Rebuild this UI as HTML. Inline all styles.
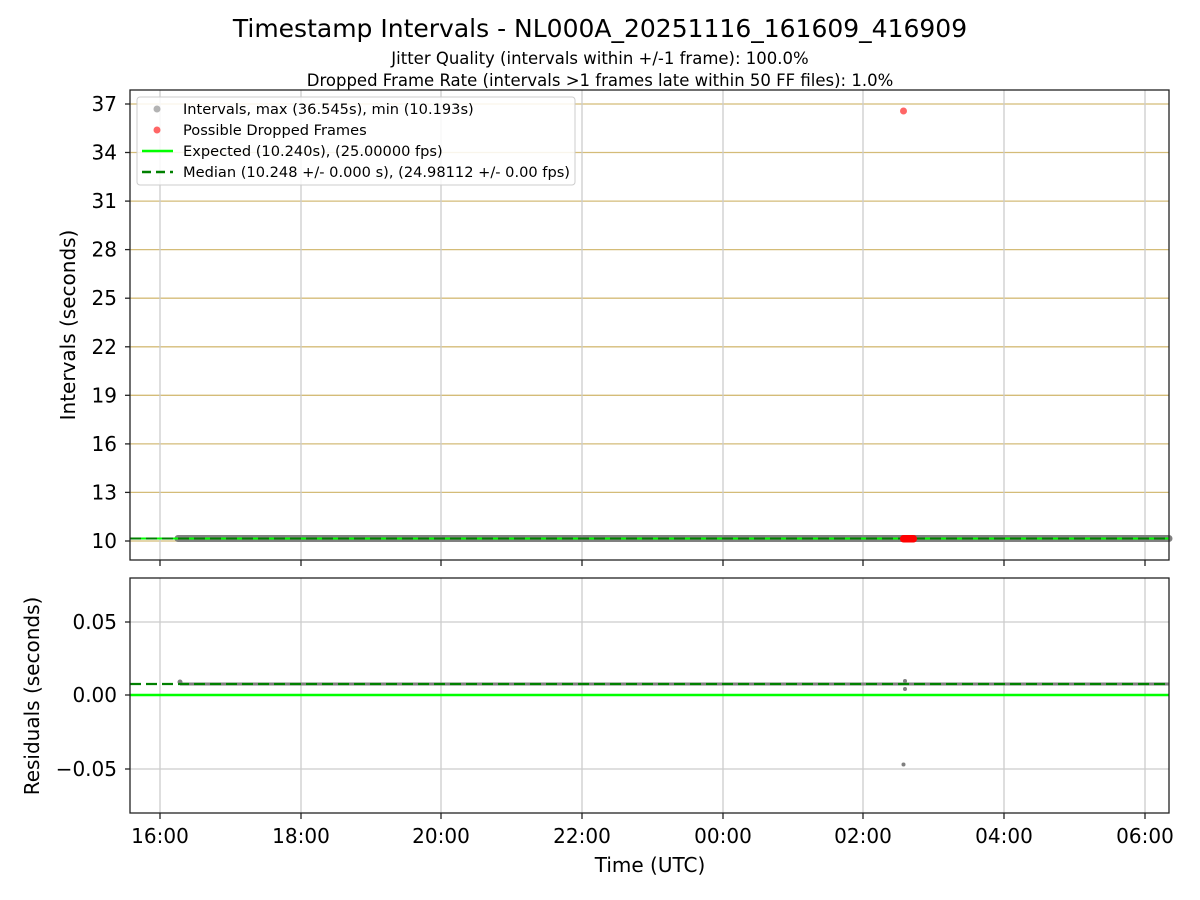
<!DOCTYPE html>
<html><head><meta charset="utf-8"><style>body{margin:0;background:#fff}svg{display:block}text{font-family:"DejaVu Sans","Liberation Sans",sans-serif;fill:#000}</style></head><body>
<svg width="1200" height="900" xmlns="http://www.w3.org/2000/svg">
<text x="600" y="37" font-size="25" text-anchor="middle">Timestamp Intervals - NL000A_20251116_161609_416909</text>
<text x="600" y="64" font-size="16.5" text-anchor="middle">Jitter Quality (intervals within +/-1 frame): 100.0%</text>
<text x="600" y="86" font-size="16.5" text-anchor="middle">Dropped Frame Rate (intervals &gt;1 frames late within 50 FF files): 1.0%</text>
<g stroke="#d4bc78" stroke-width="1.3">
<line x1="130" x2="1169" y1="541" y2="541"/><line x1="130" x2="1169" y1="492.4" y2="492.4"/><line x1="130" x2="1169" y1="443.9" y2="443.9"/><line x1="130" x2="1169" y1="395.3" y2="395.3"/><line x1="130" x2="1169" y1="346.8" y2="346.8"/><line x1="130" x2="1169" y1="298.2" y2="298.2"/><line x1="130" x2="1169" y1="249.6" y2="249.6"/><line x1="130" x2="1169" y1="201.1" y2="201.1"/><line x1="130" x2="1169" y1="152.5" y2="152.5"/><line x1="130" x2="1169" y1="104" y2="104"/>
</g>
<g stroke="#cccccc" stroke-width="1.3">
<line x1="130" x2="1169" y1="622" y2="622"/><line x1="130" x2="1169" y1="695" y2="695"/><line x1="130" x2="1169" y1="769" y2="769"/>
</g>
<g stroke="#cccccc" stroke-width="1.3">
<line x1="160" x2="160" y1="90" y2="560"/><line x1="301" x2="301" y1="90" y2="560"/><line x1="441" x2="441" y1="90" y2="560"/><line x1="582" x2="582" y1="90" y2="560"/><line x1="723" x2="723" y1="90" y2="560"/><line x1="863" x2="863" y1="90" y2="560"/><line x1="1004" x2="1004" y1="90" y2="560"/><line x1="1145" x2="1145" y1="90" y2="560"/>
<line x1="160" x2="160" y1="578" y2="813"/><line x1="301" x2="301" y1="578" y2="813"/><line x1="441" x2="441" y1="578" y2="813"/><line x1="582" x2="582" y1="578" y2="813"/><line x1="723" x2="723" y1="578" y2="813"/><line x1="863" x2="863" y1="578" y2="813"/><line x1="1004" x2="1004" y1="578" y2="813"/><line x1="1145" x2="1145" y1="578" y2="813"/>
</g>
<line x1="178" x2="1169" y1="538.5" y2="538.5" stroke="#808080" stroke-width="7" stroke-linecap="round"/>
<line x1="130" x2="1169" y1="538.5" y2="538.5" stroke="#00ff00" stroke-width="2"/>
<line x1="130" x2="1169" y1="538.5" y2="538.5" stroke="#008000" stroke-width="2" stroke-dasharray="11,5"/>
<rect x="900" y="535" width="17" height="7.5" rx="3.5" fill="#ff0000"/>
<circle cx="903.5" cy="111" r="3.5" fill="#ff0000" opacity="0.6"/>
<line x1="180" x2="1169" y1="684" y2="684" stroke="#808080" stroke-width="3"/>
<circle cx="180" cy="682" r="2.5" fill="#808080"/>
<circle cx="905" cy="681" r="2" fill="#808080"/><circle cx="905" cy="689" r="2" fill="#808080"/>
<circle cx="903.5" cy="764.5" r="2" fill="#808080"/>
<line x1="130" x2="1169" y1="684" y2="684" stroke="#008000" stroke-width="2.2" stroke-dasharray="11,5"/>
<line x1="130" x2="1169" y1="695" y2="695" stroke="#00ff00" stroke-width="2.5"/>
<rect x="130" y="90" width="1039" height="470" fill="none" stroke="#222" stroke-width="1.3"/>
<rect x="130" y="578" width="1039" height="235" fill="none" stroke="#222" stroke-width="1.3"/>
<g stroke="#222" stroke-width="1.3">
<line x1="125" x2="130" y1="541" y2="541"/><line x1="125" x2="130" y1="492.4" y2="492.4"/><line x1="125" x2="130" y1="443.9" y2="443.9"/><line x1="125" x2="130" y1="395.3" y2="395.3"/><line x1="125" x2="130" y1="346.8" y2="346.8"/><line x1="125" x2="130" y1="298.2" y2="298.2"/><line x1="125" x2="130" y1="249.6" y2="249.6"/><line x1="125" x2="130" y1="201.1" y2="201.1"/><line x1="125" x2="130" y1="152.5" y2="152.5"/><line x1="125" x2="130" y1="104" y2="104"/>
<line x1="125" x2="130" y1="622" y2="622"/><line x1="125" x2="130" y1="695" y2="695"/><line x1="125" x2="130" y1="769" y2="769"/>
<line x1="160" x2="160" y1="560" y2="566"/><line x1="301" x2="301" y1="560" y2="566"/><line x1="441" x2="441" y1="560" y2="566"/><line x1="582" x2="582" y1="560" y2="566"/><line x1="723" x2="723" y1="560" y2="566"/><line x1="863" x2="863" y1="560" y2="566"/><line x1="1004" x2="1004" y1="560" y2="566"/><line x1="1145" x2="1145" y1="560" y2="566"/>
<line x1="160" x2="160" y1="813" y2="819"/><line x1="301" x2="301" y1="813" y2="819"/><line x1="441" x2="441" y1="813" y2="819"/><line x1="582" x2="582" y1="813" y2="819"/><line x1="723" x2="723" y1="813" y2="819"/><line x1="863" x2="863" y1="813" y2="819"/><line x1="1004" x2="1004" y1="813" y2="819"/><line x1="1145" x2="1145" y1="813" y2="819"/>
</g>
<g font-size="20" text-anchor="end">
<text x="117" y="548">10</text><text x="117" y="499.4">13</text><text x="117" y="450.9">16</text><text x="117" y="402.3">19</text><text x="117" y="353.8">22</text><text x="117" y="305.2">25</text><text x="117" y="256.6">28</text><text x="117" y="208.1">31</text><text x="117" y="159.5">34</text><text x="117" y="111">37</text>
<text x="117" y="629">0.05</text><text x="117" y="702">0.00</text><text x="117" y="776">−0.05</text>
</g>
<g font-size="20" text-anchor="middle">
<text x="160" y="843">16:00</text><text x="301" y="843">18:00</text><text x="441" y="843">20:00</text><text x="582" y="843">22:00</text><text x="723" y="843">00:00</text><text x="863" y="843">02:00</text><text x="1004" y="843">04:00</text><text x="1145" y="843">06:00</text>
<text x="650" y="872">Time (UTC)</text>
<text transform="translate(75,325) rotate(-90)">Intervals (seconds)</text>
<text transform="translate(39,696) rotate(-90)">Residuals (seconds)</text>
</g>
<rect x="137" y="97" width="438" height="88" rx="3" fill="#fff" fill-opacity="0.85" stroke="#cccccc"/>
<circle cx="157" cy="109" r="3.5" fill="#808080" opacity="0.6"/>
<circle cx="157" cy="130" r="3.5" fill="#ff0000" opacity="0.6"/>
<line x1="142" x2="173" y1="151" y2="151" stroke="#00ff00" stroke-width="2.5"/>
<line x1="142" x2="173" y1="172" y2="172" stroke="#008000" stroke-width="2.5" stroke-dasharray="9,5"/>
<g font-size="14.6">
<text x="183" y="114">Intervals, max (36.545s), min (10.193s)</text>
<text x="183" y="135">Possible Dropped Frames</text>
<text x="183" y="156">Expected (10.240s), (25.00000 fps)</text>
<text x="183" y="177">Median (10.248 +/- 0.000 s), (24.98112 +/- 0.00 fps)</text>
</g>
</svg>
</body></html>
